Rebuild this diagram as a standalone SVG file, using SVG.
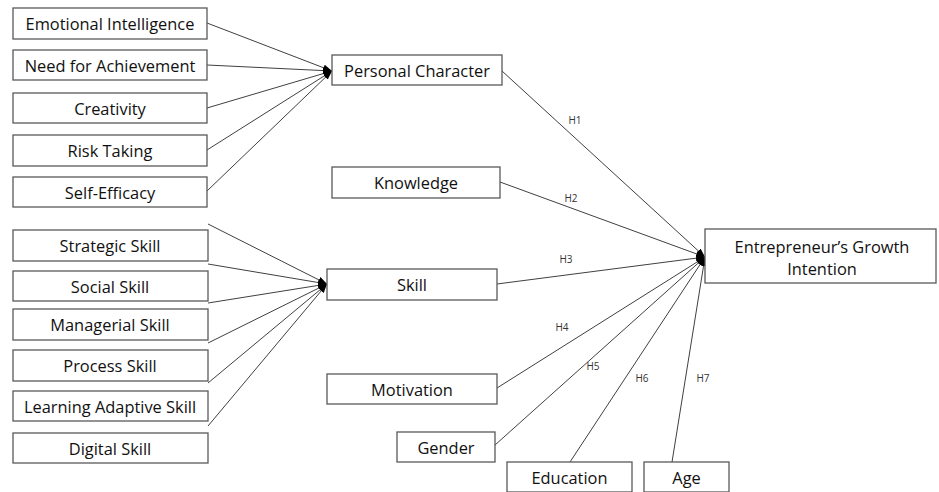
<svg xmlns="http://www.w3.org/2000/svg" width="939" height="492" viewBox="0 0 939 492">
<style>
.box{fill:#fff;stroke:#595959;stroke-width:1.3}
.t{font-family:"Open Sans","Liberation Sans",sans-serif;font-size:16.4px;fill:#111;text-anchor:middle;dominant-baseline:central}
.h{font-family:"Open Sans","Liberation Sans",sans-serif;font-size:10px;fill:#333;text-anchor:middle;dominant-baseline:central}
.c line{stroke:#404040;stroke-width:1;marker-end:url(#ah)}
</style>
<defs>
<marker id="ah" markerUnits="userSpaceOnUse" markerWidth="10" markerHeight="8" refX="9" refY="4" orient="auto">
<path d="M0,0.8 L9,4 L0,7.2 Z" fill="#000"/>
</marker>
</defs>
<rect width="939" height="492" fill="#fff"/>
<g class="c" id="connectors">
<line x1="207" y1="23" x2="332" y2="71"/>
<line x1="207" y1="65" x2="332" y2="71"/>
<line x1="207" y1="108" x2="332" y2="71"/>
<line x1="207" y1="150" x2="332" y2="71"/>
<line x1="207" y1="191" x2="332" y2="71"/>
<line x1="208" y1="224" x2="327" y2="284"/>
<line x1="208" y1="264" x2="327" y2="284"/>
<line x1="208" y1="303" x2="327" y2="284"/>
<line x1="208" y1="343" x2="327" y2="284"/>
<line x1="208" y1="383" x2="327" y2="284"/>
<line x1="208" y1="426" x2="327" y2="284"/>
<line x1="502" y1="71" x2="705" y2="257"/>
<line x1="500" y1="182" x2="705" y2="257"/>
<line x1="497" y1="284" x2="705" y2="257"/>
<line x1="497" y1="388" x2="705" y2="257"/>
<line x1="495" y1="445" x2="705" y2="257"/>
<line x1="570" y1="462" x2="705" y2="257"/>
<line x1="672" y1="462" x2="705" y2="257"/>
</g>
<g id="labels">
<text class="h" x="575" y="120">H1</text>
<text class="h" x="571" y="198">H2</text>
<text class="h" x="566" y="259">H3</text>
<text class="h" x="562" y="327">H4</text>
<text class="h" x="593" y="366">H5</text>
<text class="h" x="642" y="378">H6</text>
<text class="h" x="703" y="378">H7</text>
</g>
<g id="emotional"><rect class="box" x="13" y="8" width="194" height="31"/><text class="t" x="110" y="23.5">Emotional Intelligence</text></g>
<g id="need"><rect class="box" x="13" y="50" width="194" height="30"/><text class="t" x="110" y="65">Need for Achievement</text></g>
<g id="creativity"><rect class="box" x="13" y="93" width="194" height="30"/><text class="t" x="110" y="108">Creativity</text></g>
<g id="risk"><rect class="box" x="13" y="135" width="194" height="31"/><text class="t" x="110" y="150.5">Risk Taking</text></g>
<g id="selfefficacy"><rect class="box" x="13" y="177" width="194" height="30"/><text class="t" x="110" y="192">Self-Efficacy</text></g>
<g id="strategic"><rect class="box" x="13" y="230" width="195" height="31"/><text class="t" x="110" y="245.5">Strategic Skill</text></g>
<g id="social"><rect class="box" x="13" y="271" width="195" height="30"/><text class="t" x="110" y="286">Social Skill</text></g>
<g id="managerial"><rect class="box" x="13" y="309" width="195" height="31"/><text class="t" x="110" y="324.5">Managerial Skill</text></g>
<g id="process"><rect class="box" x="13" y="350" width="195" height="31"/><text class="t" x="110" y="365.5">Process Skill</text></g>
<g id="learning"><rect class="box" x="13" y="391" width="195" height="30"/><text class="t" x="110" y="406">Learning Adaptive Skill</text></g>
<g id="digital"><rect class="box" x="13" y="433" width="195" height="30"/><text class="t" x="110" y="448">Digital Skill</text></g>
<g id="personal"><rect class="box" x="332" y="55" width="170" height="30"/><text class="t" x="417" y="70">Personal Character</text></g>
<g id="knowledge"><rect class="box" x="332" y="167" width="168" height="31"/><text class="t" x="416" y="182.5">Knowledge</text></g>
<g id="skill"><rect class="box" x="327" y="269" width="170" height="31"/><text class="t" x="412" y="284.5">Skill</text></g>
<g id="motivation"><rect class="box" x="327" y="374" width="170" height="30"/><text class="t" x="412" y="389">Motivation</text></g>
<g id="gender"><rect class="box" x="397" y="432" width="98" height="30"/><text class="t" x="446" y="447">Gender</text></g>
<g id="education"><rect class="box" x="507" y="462" width="125" height="30"/><text class="t" x="569.5" y="477">Education</text></g>
<g id="age"><rect class="box" x="644" y="462" width="85" height="30"/><text class="t" x="686.5" y="477">Age</text></g>
<g id="growth"><rect class="box" x="705" y="229" width="231" height="54"/><text class="t" x="822" y="246">Entrepreneur’s Growth</text><text class="t" x="822" y="268">Intention</text></g>
</svg>
